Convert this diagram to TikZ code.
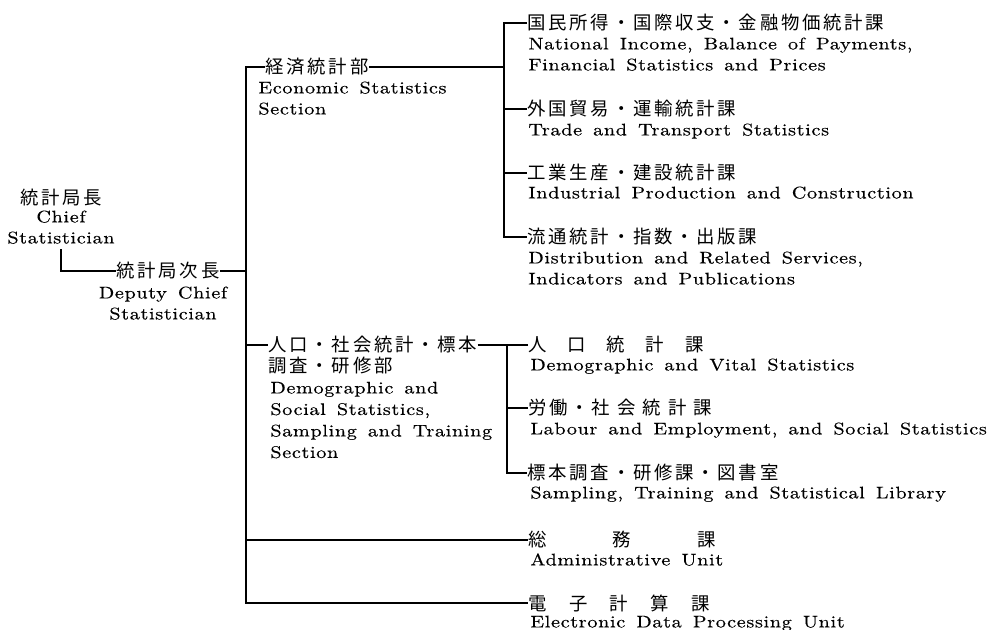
\documentclass[tikz,border=0pt]{standalone}
\usepackage{fontspec}
\setmainfont{lmroman10-regular.otf}[FakeStretch=1.2,LetterSpace=4,WordSpace=1.5,FakeBold=0.4]
\newfontfamily\jpfont{Noto Sans CJK JP}[LetterSpace=15]
\newcommand{\enf}{\fontsize{8.4pt}{10.5pt}\selectfont}
\newcommand{\enfw}{\fontsize{8.4pt}{10.75pt}\selectfont}
\newcommand{\jpf}{\jpfont\fontsize{9.2pt}{10.5pt}\selectfont}
\begin{document}
\begin{tikzpicture}[x=0.5pt,y=-0.5pt,
  jp/.style={font=\jpf, inner sep=0pt, anchor=west},
  en/.style={font=\enf, inner sep=0pt, align=left, anchor=north west},
  conn/.style={line width=0.55pt}]
\useasboundingbox (0,0) rectangle (993,630);
\coordinate (spine) at (246,0);
\coordinate (eb) at (504,0);
\coordinate (db) at (507,0);

% Chief Statistician
\node[jp, anchor=center] (cj) at (61,198) {統計局長};
\node[en, anchor=north, align=center] (ce) at (61,207.3) {\strut Chief\\Statistician};

% Deputy Chief Statistician
\node[jp, anchor=center] (dj) at (168,271) {統計局次長\hspace{-1.4pt}};
\node[en, anchor=north, align=center] (de) at (163,283.3) {\strut Deputy Chief\\Statistician};

% Economic Statistics Section
\node[jp] (ej) at (265,67) {経済統計部\hspace{-1.4pt}};
\node[en] (ee) at (258,78.3) {\strut Economic Statistics\\Section};

\node[jp] (u1) at (527,23) {国民所得・国際収支・金融物価統計課};
\node[en] (u1e) at (528,34.3) {\strut National Income, Balance of Payments,\\Financial Statistics and Prices};
\node[jp] (u2) at (527,109) {外国貿易・運輸統計課};
\node[en] (u2e) at (528,120.3) {\strut Trade and Transport Statistics};
\node[jp] (u3) at (527,173) {工業生産・建設統計課};
\node[en] (u3e) at (528,183.3) {\strut Industrial Production and Construction};
\node[jp] (u4) at (527,237) {流通統計・指数・出版課};
\node[en] (u4e) at (528,248.3) {\strut Distribution and Related Services,\\Indicators and Publications};

% Demographic and Social Statistics, Sampling and Training Section
\node[jp] (dsj) at (268,345) {人口・社会統計・標本\hspace{-1.4pt}};
\node[jp] (dsj2) at (268,366) {調査・研修部};
\node[en, font=\enfw] (dse) at (270,378) {\strut Demographic and\\Social Statistics,\\Sampling and Training\\Section};

\node[jp] (v1) at (528,345) {人\hspace{10.4pt}口\hspace{10.4pt}統\hspace{10.4pt}計\hspace{10.4pt}課};
\node[en] (v1e) at (530,355.3) {\strut Demographic and Vital Statistics};
\node[jp] (v2) at (528,408) {労働・社\hspace{3.5pt}会\hspace{3.5pt}統\hspace{3.5pt}計\hspace{3.5pt}課};
\node[en] (v2e) at (530,419.3) {\strut Labour and Employment, and Social Statistics};
\node[jp] (v3) at (527,473) {標本調査・研修課・図書室};
\node[en] (v3e) at (530,483.3) {\strut Sampling, Training and Statistical Library};

% Administrative Unit
\node[jp] (aj) at (528,540) {総\hspace{33pt}務\hspace{33pt}課};
\node[en] (ae) at (530,550.3) {\strut Administrative Unit};

% Electronic Data Processing Unit
\node[jp] (xj) at (528,603) {電\hspace{11.2pt}子\hspace{11.2pt}計\hspace{11.2pt}算\hspace{11.2pt}課};
\node[en] (xe) at (530,612.3) {\strut Electronic Data Processing Unit};

% connectors
\draw[conn] (ce.south) ++(0,5) |- (dj.west);
\draw[conn] (dj.east) -- (spine |- dj.east);
\draw[conn] (ej.west) -- (spine |- ej.west) -- (spine |- xj.west) -- (xj.west);
\draw[conn] (spine |- dsj.west) -- (dsj.west);
\draw[conn] (spine |- aj.west) -- (aj.west);

\draw[conn] (ej.east) -- (eb |- ej.east);
\draw[conn] (u1.west) -- (eb |- u1.west) -- (eb |- u4.west) -- (u4.west);
\draw[conn] (eb |- u2.west) -- (u2.west);
\draw[conn] (eb |- u3.west) -- (u3.west);

\draw[conn] (dsj.east) -- (db |- dsj.east);
\draw[conn] (v1.west) -- (db |- v1.west) -- (db |- v3.west) -- (v3.west);
\draw[conn] (db |- v2.west) -- (v2.west);
\end{tikzpicture}
\end{document}
